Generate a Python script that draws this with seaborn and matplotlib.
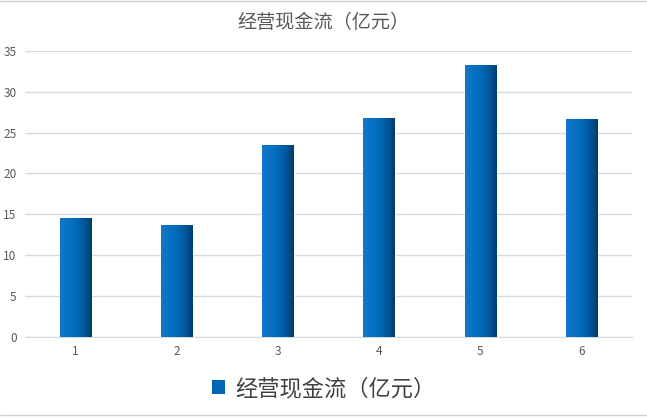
import numpy as np
import pandas as pd
import seaborn as sns
from matplotlib import pyplot as plt
from matplotlib.colors import LinearSegmentedColormap
from matplotlib.lines import Line2D
from matplotlib.patches import Patch

# data
categories = ['1', '2', '3', '4', '5', '6']
cash_flow = [14.5, 13.7, 23.5, 26.8, 33.3, 26.7]
series_name = '经营现金流（亿元）'
y_ticks = [0, 5, 10, 15, 20, 25, 30, 35]

sns.set_style('white')
plt.rcParams['font.family'] = ['Noto Sans CJK SC', 'DejaVu Sans']

df = pd.DataFrame({'period': categories, 'value': cash_flow})

fig = plt.figure(figsize=(6.47, 4.18), dpi=100)
ax = fig.add_axes([0.0386, 0.1945, 0.9384, 0.6835])

sns.barplot(data=df, x='period', y='value', color='#0070C0', width=0.31,
            ax=ax, zorder=2)

# horizontal gradient fill, light on the left, dark on the right
cmap = LinearSegmentedColormap.from_list(
    'bar_grad', [(0.0, '#1477C9'), (0.45, '#006DBE'), (0.75, '#00589C'), (1.0, '#003C69')])
grad = np.linspace(0, 1, 256).reshape(1, -1)
for p in ax.patches:
    x0, w, h = p.get_x(), p.get_width(), p.get_height()
    im = ax.imshow(grad, extent=[x0, x0 + w, 0, h], aspect='auto', cmap=cmap,
                   zorder=3, interpolation='bilinear')
    im.set_clip_path(p)

ax.set_xlim(-0.5, len(categories) - 0.5)
ax.set_ylim(0, 35)
ax.set_yticks(y_ticks)
ax.yaxis.grid(True, color='#D9D9D9', linewidth=1)
ax.set_axisbelow(True)
for side in ['top', 'right', 'left']:
    ax.spines[side].set_visible(False)
ax.spines['bottom'].set_color('#D9D9D9')
ax.tick_params(axis='both', length=0, labelsize=8.5, labelcolor='#595959')
ax.tick_params(axis='y', pad=6)
ax.tick_params(axis='x', pad=6)
ax.set_xlabel('')
ax.set_ylabel('')

fig.text(0.5, 0.945, series_name, ha='center', va='center', fontsize=13.8, color='#595959')

handle = Patch(facecolor='#0066B3', edgecolor='none')
fig.legend([handle], [series_name], loc='center', bbox_to_anchor=(0.5, 0.07),
           frameon=False, fontsize=16, labelcolor='#404040',
           handlelength=0.6, handleheight=0.6, handletextpad=0.45)

# thin page borders visible in the reference
fig.add_artist(Line2D([0, 1], [0.997, 0.997], color='#D0D0D0', linewidth=1))
fig.add_artist(Line2D([0, 1], [0.006, 0.006], color='#D0D0D0', linewidth=1))

plt.savefig('out.png', dpi=100)
